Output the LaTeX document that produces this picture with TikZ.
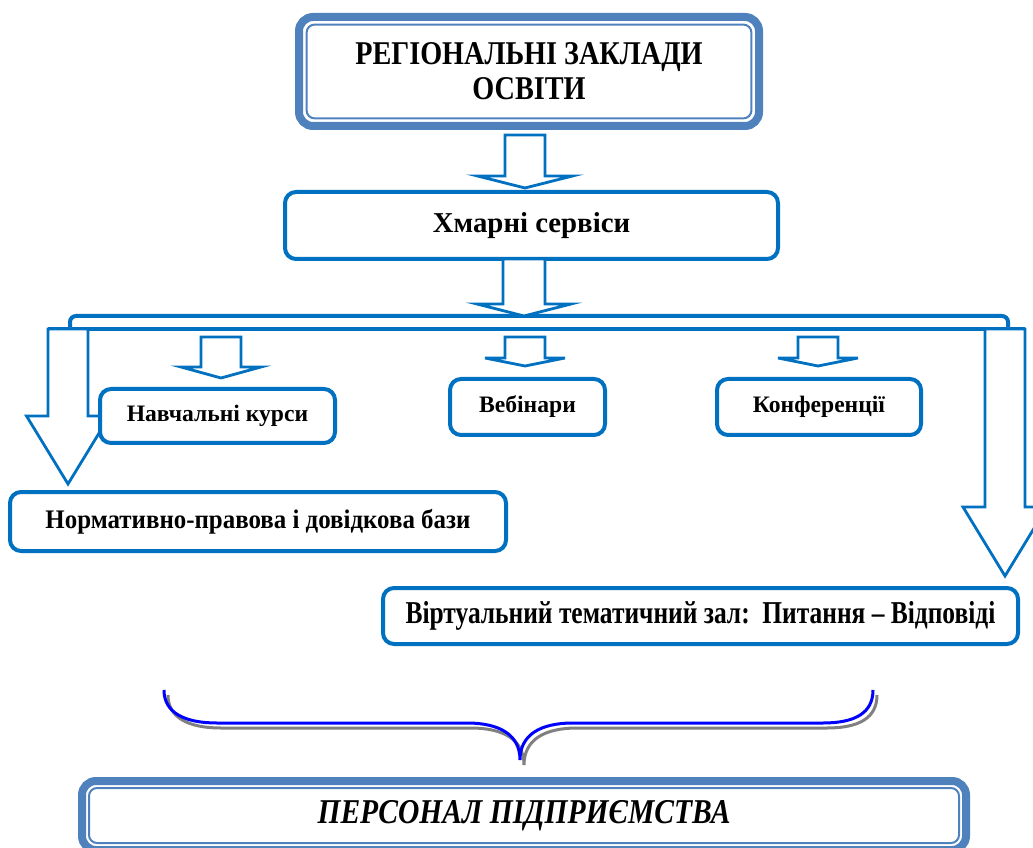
\documentclass[tikz,border=0pt]{standalone}
\usepackage{fontspec}
\setmainfont{Liberation Serif}
\newfontfamily\narrowfont[FakeStretch=0.85]{Liberation Serif}
\newfontfamily\narrowerfont[FakeStretch=0.8]{Liberation Serif}
\newfontfamily\slightfont[FakeStretch=0.93]{Liberation Serif}
\usetikzlibrary{calc}

\definecolor{boxblue}{HTML}{0070C0}
\definecolor{frameblue}{HTML}{4F81BD}
\definecolor{braceblue}{HTML}{0000FF}
\definecolor{braceshadow}{HTML}{808080}

\tikzset{
  service/.style={draw=boxblue, line width=2pt, rounded corners=5.5pt, fill=white,
    align=center, inner sep=0pt, outer sep=0pt},
  framebox/.style={draw=frameblue, line width=4pt, rounded corners=7pt,
    align=center, inner sep=0pt, outer sep=0pt},
  innerframe/.style={draw=frameblue, line width=1pt, rounded corners=4pt},
  arrowline/.style={draw=boxblue, line width=1.4pt, fill=white, line join=miter},
  barline/.style={draw=boxblue, line width=2pt},
}

% block arrow: start (only its height is used), tip, half shaft, half head, head length
\newcommand{\blockarrow}[5]{%
  \draw[arrowline] let \p1=(#1), \p2=(#2) in
    (\x2-#3,\y1) -- (\x2-#3,\y2+#5) -- (\x2-#4,\y2+#5) -- (\x2,\y2)
    -- (\x2+#4,\y2+#5) -- (\x2+#3,\y2+#5) -- (\x2+#3,\y1) -- cycle;}

\begin{document}
\begin{tikzpicture}[x=0.5pt, y=0.5pt]
  \useasboundingbox (0,0) rectangle (1033,847);

  % top frame
  \node[framebox, minimum width=230pt, minimum height=54.5pt,
    font=\narrowfont\bfseries\fontsize{16.6}{17.5}\selectfont] (inst) at (529,775.5)
    {РЕГІОНАЛЬНІ ЗАКЛАДИ\\ОСВІТИ};
  \draw[innerframe] ($(inst.south west)+(3.8pt,3.8pt)$) rectangle ($(inst.north east)-(3.8pt,3.8pt)$);

  \node[service, minimum width=246.5pt, minimum height=33.5pt,
    font=\bfseries\fontsize{14.4}{16}\selectfont] (cloud) at (531.5,621.5) {Хмарні сервіси};

  \blockarrow{$(inst.south)+(0,-4.5pt)$}{$(cloud.north)+(-3.25pt,2pt)$}{10pt}{23.75pt}{6pt}

  % distribution bar
  \coordinate (barleft) at (48,518);
  \coordinate (barright) at (1025,518);
  \coordinate (bartop) at (524,531);
  \draw[barline, rounded corners=3pt] (70,518) |- (1008,531) -- (1008,518);
  \draw[barline] (barleft) -- (barright);

  \blockarrow{cloud.south}{bartop}{10.5pt}{23.5pt}{6pt}

  \node[service, minimum width=248pt, minimum height=29.5pt,
    font=\slightfont\bfseries\fontsize{13.4}{15}\selectfont] (normbase) at (258,325.5)
    {Нормативно-правова і довідкова бази};
  \node[service, minimum width=317.5pt, minimum height=28pt,
    font=\narrowerfont\bfseries\fontsize{15.9}{17}\selectfont] (virtual) at (700.5,231)
    {Віртуальний тематичний зал:\ \ Питання – Відповіді};

  \blockarrow{barleft}{$(normbase.north west)+(29pt,4pt)$}{10pt}{20.75pt}{34pt}
  \blockarrow{barright}{$(virtual.north east)+(-6.5pt,6pt)$}{10pt}{21pt}{34.5pt}

  \node[service, minimum width=117.5pt, minimum height=27pt,
    font=\bfseries\fontsize{11.8}{13}\selectfont] (courses) at (217.5,431) {Навчальні курси};
  \node[service, minimum width=77.5pt, minimum height=28pt,
    font=\bfseries\fontsize{11.8}{13}\selectfont] (webinars) at (527.5,440) {Вебінари};
  \node[service, minimum width=102pt, minimum height=28pt,
    font=\bfseries\fontsize{11.8}{13}\selectfont] (confs) at (819,440) {Конференції};

  \blockarrow{$(barleft)+(0,-4pt)$}{$(courses.north)+(1.75pt,5.5pt)$}{10pt}{20pt}{5.5pt}
  \blockarrow{$(barleft)+(0,-4pt)$}{$(webinars.north)+(-1.25pt,6.5pt)$}{10pt}{20pt}{4pt}
  \blockarrow{$(barleft)+(0,-4pt)$}{$(confs.north)+(-0.5pt,6.5pt)$}{10pt}{20pt}{4pt}

  % brace with its shadow
  \foreach \dx/\dy/\col in {4/-5/braceshadow, 0/0/braceblue}
    \draw[line width=1.5pt, \col, shift={(\dx,\dy)}]
      (164,157) .. controls (164,134) and (185,124) .. (217,124) -- (467,124)
      .. controls (500,124) and (520,112) .. (520,87)
      .. controls (520,112) and (540,124) .. (573,124) -- (823,124)
      .. controls (855,124) and (873,134) .. (873,157);

  % bottom frame
  \node[framebox, minimum width=442pt, minimum height=34.5pt,
    font=\narrowfont\bfseries\itshape\fontsize{17.4}{20}\selectfont] (staff) at (524,31.5)
    {ПЕРСОНАЛ ПІДПРИЄМСТВА};
  \draw[innerframe] ($(staff.south west)+(3.5pt,3.5pt)$) rectangle ($(staff.north east)-(3.5pt,3.5pt)$);
\end{tikzpicture}
\end{document}
